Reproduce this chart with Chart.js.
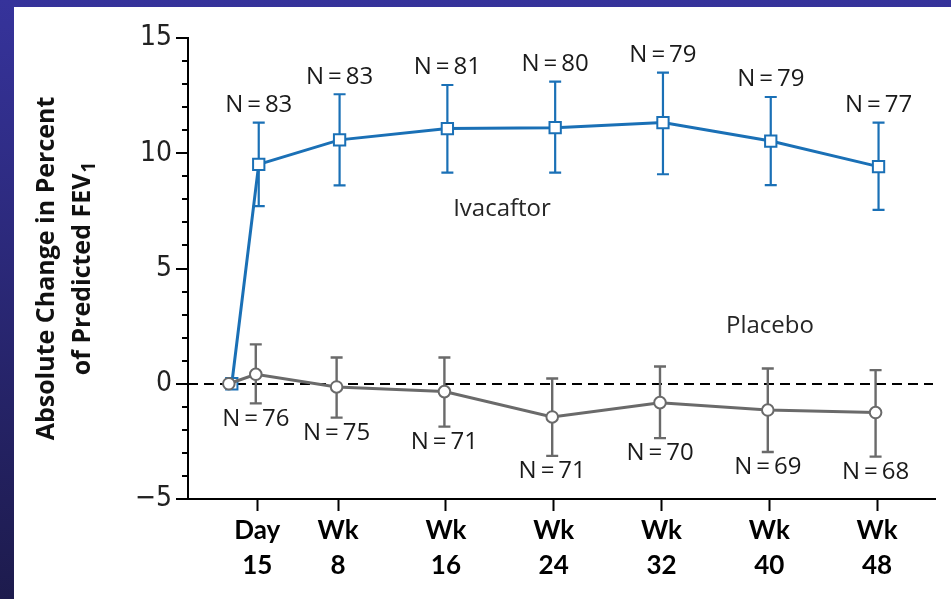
<!DOCTYPE html>
<html>
<head>
<meta charset="utf-8">
<script src="https://cdn.jsdelivr.net/npm/chart.js@4.4.1/dist/chart.umd.min.js"></script>
<style>
  html, body { margin: 0; padding: 0; background: #fff; }
  #c { display: block; }
</style>
</head>
<body>
<canvas id="c" width="951" height="599"></canvas>
<script>
// ---- data ----
const WEEKS = [0, 2, 8, 16, 24, 32, 40, 48];
const IVA_MEAN  = [0, 9.52, 10.58, 11.07, 11.11, 11.33, 10.53, 9.42];
const IVA_UPPER = [null, 11.33, 12.56, 12.96, 13.11, 13.50, 12.44, 11.33];
const IVA_LOWER = [null, 7.71, 8.61, 9.16, 9.16, 9.09, 8.62, 7.54];
const IVA_N     = [null, 83, 83, 81, 80, 79, 79, 77];
const PLA_MEAN  = [0, 0.41, -0.14, -0.34, -1.44, -0.82, -1.14, -1.25];
const PLA_UPPER = [null, 1.71, 1.14, 1.14, 0.23, 0.75, 0.66, 0.59];
const PLA_LOWER = [null, -0.85, -1.47, -1.86, -3.13, -2.36, -2.96, -3.16];
const PLA_N     = [null, 76, 75, 71, 71, 70, 69, 68];
const X_TICK_VALUES = [2, 8, 16, 24, 32, 40, 48];
const X_TICK_LABELS = [['Day', '15'], ['Wk', '8'], ['Wk', '16'], ['Wk', '24'], ['Wk', '32'], ['Wk', '40'], ['Wk', '48']];
const Y_TICK_VALUES = [-5, 0, 5, 10, 15];
const Y_TICK_LABELS = ['\u22125', '0', '5', '10', '15'];
const SERIES_NAMES = ['Ivacaftor', 'Placebo'];
const Y_TITLE_LINE1 = 'Absolute Change in Percent';
const Y_TITLE_LINE2 = 'of Predicted FEV';
const Y_TITLE_SUB = '1';

// ---- styling ----
const BLUE = '#1a70b6';
const GRAY = '#6a6a6a';
const DODGE = 0.11;
const TEXT_FONT = '"Open Sans", "Noto Sans", sans-serif';

const ivaPts = WEEKS.map((w, i) => ({ x: w + DODGE, y: IVA_MEAN[i] }));
const plaPts = WEEKS.map((w, i) => ({ x: w - DODGE, y: PLA_MEAN[i] }));

const framePlugin = {
  id: 'frame',
  beforeDraw(chart) {
    const ctx = chart.ctx;
    const g = ctx.createLinearGradient(0, 0, 0, chart.height);
    g.addColorStop(0, '#36339b');
    g.addColorStop(1, '#1d1b4d');
    ctx.save();
    ctx.fillStyle = g;
    ctx.fillRect(0, 0, chart.width, chart.height);
    ctx.fillStyle = '#ffffff';
    ctx.fillRect(14, 7, chart.width - 14, chart.height - 7);
    ctx.restore();
  }
};

const decorPlugin = {
  id: 'decor',
  beforeDatasetsDraw(chart) {
    const ctx = chart.ctx;
    const xs = chart.scales.x, ys = chart.scales.y;
    const ca = chart.chartArea;
    ctx.save();
    // dashed zero line
    ctx.strokeStyle = '#000';
    ctx.lineWidth = 2;
    ctx.setLineDash([10, 6]);
    const y0 = Math.round(ys.getPixelForValue(0));
    ctx.beginPath();
    ctx.moveTo(ca.left, y0);
    ctx.lineTo(ca.right - 2, y0);
    ctx.stroke();
    ctx.setLineDash([]);
    // error bars
    const drawErr = (upper, lower, dx, color, lw) => {
      ctx.strokeStyle = color;
      ctx.lineWidth = lw;
      WEEKS.forEach((w, i) => {
        if (upper[i] == null) return;
        const px = xs.getPixelForValue(w + dx);
        const pu = ys.getPixelForValue(upper[i]);
        const pl = ys.getPixelForValue(lower[i]);
        ctx.beginPath();
        ctx.moveTo(px, pu); ctx.lineTo(px, pl);
        ctx.moveTo(px - 6, pu); ctx.lineTo(px + 6, pu);
        ctx.moveTo(px - 6, pl); ctx.lineTo(px + 6, pl);
        ctx.stroke();
      });
    };
    drawErr(IVA_UPPER, IVA_LOWER, DODGE, BLUE, 2.2);
    drawErr(PLA_UPPER, PLA_LOWER, -DODGE, GRAY, 2.4);
    ctx.restore();
  },
  afterDraw(chart) {
    const ctx = chart.ctx;
    const xs = chart.scales.x, ys = chart.scales.y;
    const ca = chart.chartArea;
    ctx.save();
    // y axis ticks (major and minor)
    ctx.strokeStyle = '#000';
    ctx.lineWidth = 2;
    for (let v = -5; v <= 15; v++) {
      const len = Y_TICK_VALUES.includes(v) ? 12 : 6;
      const py = Math.round(ys.getPixelForValue(v));
      ctx.beginPath();
      ctx.moveTo(ca.left - len, py);
      ctx.lineTo(ca.left, py);
      ctx.stroke();
    }
    // N labels
    ctx.fillStyle = '#1a1a1a';
    ctx.font = '24px ' + TEXT_FONT;
    ctx.textAlign = 'center';
    ctx.textBaseline = 'middle';
    WEEKS.forEach((w, i) => {
      if (IVA_N[i] != null) {
        const px = xs.getPixelForValue(w + DODGE);
        const py = ys.getPixelForValue(IVA_UPPER[i]) - 17.5;
        ctx.fillText('N\u2009=\u2009' + IVA_N[i], px, py);
      }
      if (PLA_N[i] != null) {
        const px = xs.getPixelForValue(w - DODGE);
        const py = ys.getPixelForValue(PLA_LOWER[i]) + 15.5;
        ctx.fillText('N\u2009=\u2009' + PLA_N[i], px, py);
      }
    });
    // series names
    ctx.fillStyle = '#262626';
    ctx.fillText(SERIES_NAMES[0], 502, 209);
    ctx.fillText(SERIES_NAMES[1], 770, 326);
    // y axis title
    const cy = (ca.top + ca.bottom) / 2;
    ctx.fillStyle = '#111';
    ctx.font = 'bold 25px ' + TEXT_FONT;
    ctx.translate(47, cy);
    ctx.rotate(-Math.PI / 2);
    ctx.textAlign = 'center';
    ctx.fillText(Y_TITLE_LINE1, 0, 0);
    ctx.restore();
    ctx.save();
    ctx.fillStyle = '#111';
    ctx.translate(83, cy);
    ctx.rotate(-Math.PI / 2);
    ctx.textBaseline = 'middle';
    ctx.font = 'bold 25px ' + TEXT_FONT;
    const w1 = ctx.measureText(Y_TITLE_LINE2).width;
    ctx.font = 'bold 19px ' + TEXT_FONT;
    const w2 = ctx.measureText(Y_TITLE_SUB).width;
    const start = -(w1 + w2 + 1) / 2;
    ctx.textAlign = 'left';
    ctx.font = 'bold 25px ' + TEXT_FONT;
    ctx.fillText(Y_TITLE_LINE2, start, 0);
    ctx.font = 'bold 19px ' + TEXT_FONT;
    ctx.fillText(Y_TITLE_SUB, start + w1 + 1, 7);
    ctx.restore();
  }
};

new Chart(document.getElementById('c'), {
  type: 'line',
  data: {
    datasets: [
      {
        label: SERIES_NAMES[1],
        data: plaPts,
        order: 0,
        borderColor: GRAY,
        borderWidth: 3,
        pointStyle: 'circle',
        pointRadius: 5.8,
        pointBorderWidth: 2,
        pointBackgroundColor: '#fff',
        pointBorderColor: GRAY,
        tension: 0
      },
      {
        label: SERIES_NAMES[0],
        data: ivaPts,
        order: 1,
        borderColor: BLUE,
        borderWidth: 3,
        pointStyle: 'rect',
        pointRadius: 8,
        pointBorderWidth: 2,
        pointBackgroundColor: '#fff',
        pointBorderColor: BLUE,
        tension: 0
      }
    ]
  },
  options: {
    responsive: false,
    animation: false,
    devicePixelRatio: 1,
    layout: { padding: { left: 14, top: 38, right: 16, bottom: 0 } },
    plugins: { legend: { display: false }, tooltip: { enabled: false } },
    scales: {
      x: {
        type: 'linear',
        min: -3.14,
        max: 52.3,
        afterBuildTicks(scale) { scale.ticks = X_TICK_VALUES.map(v => ({ value: v })); },
        afterFit(scale) { scale.height = 100; },
        grid: { display: true, drawOnChartArea: false, drawTicks: true, tickLength: 12, tickColor: '#000', tickWidth: 2 },
        border: { display: true, color: '#000', width: 2 },
        ticks: {
          autoSkip: false,
          maxRotation: 0,
          padding: 2,
          color: '#000',
          font: { family: 'Lato, "Open Sans", sans-serif', size: 26, weight: 'bold', lineHeight: 1.346 },
          callback(value, index) { return X_TICK_LABELS[index]; }
        }
      },
      y: {
        type: 'linear',
        min: -5,
        max: 15,
        afterBuildTicks(scale) { scale.ticks = Y_TICK_VALUES.map(v => ({ value: v })); },
        afterFit(scale) { scale.width = 174; },
        grid: { display: false, drawTicks: false },
        border: { display: true, color: '#000', width: 2 },
        ticks: {
          padding: 16,
          color: '#222',
          font: { family: '"Liberation Sans Narrow", "DejaVu Sans Condensed", "Liberation Sans", sans-serif', size: 28 },
          callback(value) { const k = Y_TICK_VALUES.indexOf(value); return k >= 0 ? Y_TICK_LABELS[k] : ''; }
        }
      }
    }
  },
  plugins: [framePlugin, decorPlugin]
});
</script>
</body>
</html>
